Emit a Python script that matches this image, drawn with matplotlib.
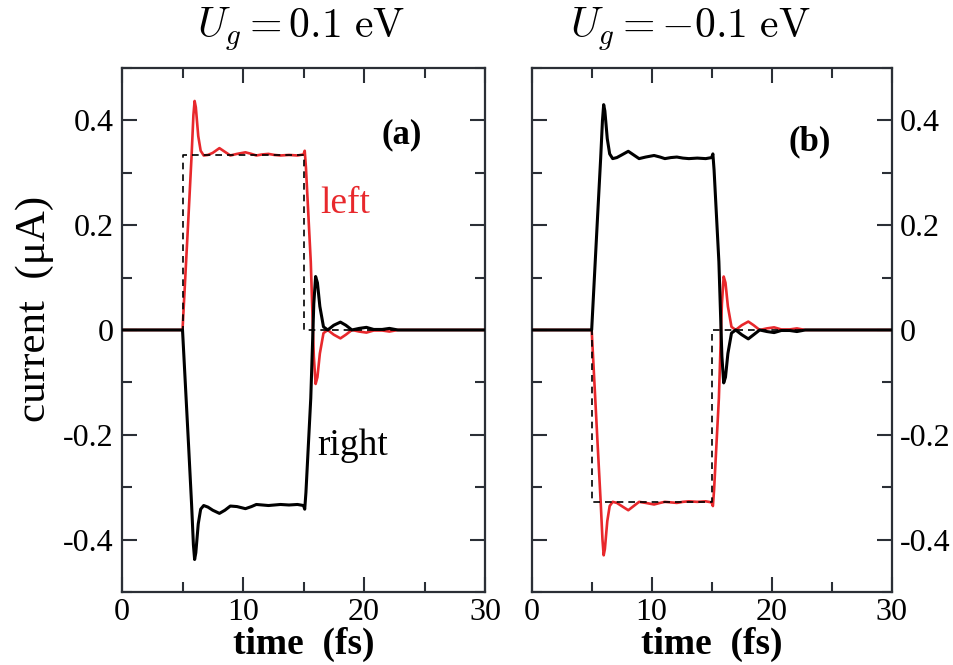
import matplotlib
matplotlib.use("Agg")
import matplotlib.pyplot as plt
from matplotlib.ticker import MultipleLocator

# time axis (fs), shared by all four curves
time = [0, 5.0, 5.25, 5.5, 5.75, 5.9, 6.0, 6.1, 6.3, 6.5,
        6.75, 7.1, 7.5, 8.05, 8.5, 8.95, 9.5, 10.2, 10.7, 11.1,
        11.6, 12.1, 12.6, 13.1, 13.8, 14.5, 15.0, 15.1, 15.2, 15.6,
        15.85, 16.0, 16.15, 16.35, 16.65, 17.0, 17.5, 18.05, 18.5, 19.0,
        19.6, 20.2, 20.8, 21.5, 22.1, 22.8, 23.5, 30]

# panel (a), Ug = 0.1 eV
left_a = [0, 0, 0.11, 0.22, 0.333, 0.41, 0.437, 0.425, 0.37, 0.342,
          0.333, 0.334, 0.338, 0.347, 0.340, 0.333, 0.336, 0.339, 0.336, 0.333,
          0.335, 0.336, 0.334, 0.333, 0.334, 0.333, 0.335, 0.342, 0.31, 0.13,
          -0.05, -0.103, -0.09, -0.045, -0.006, 0.0, -0.009, -0.016, -0.009, 0.0,
          -0.003, -0.005, -0.001, -0.001, -0.003, 0.0, 0.0, 0.0]
right_a = [0, 0, -0.11, -0.22, -0.333, -0.41, -0.438, -0.425, -0.37, -0.342,
           -0.335, -0.338, -0.344, -0.350, -0.344, -0.336, -0.337, -0.341, -0.337, -0.333,
           -0.334, -0.335, -0.334, -0.333, -0.334, -0.333, -0.335, -0.342, -0.31, -0.13,
           0.05, 0.102, 0.09, 0.045, 0.006, 0.0, 0.009, 0.015, 0.009, 0.0,
           0.003, 0.005, 0.001, 0.001, 0.003, 0.0, 0.0, 0.0]

# panel (b), Ug = -0.1 eV
left_b = [0, 0, -0.11, -0.22, -0.328, -0.40, -0.430, -0.418, -0.365, -0.336,
          -0.328, -0.330, -0.336, -0.344, -0.336, -0.328, -0.330, -0.333, -0.330, -0.328,
          -0.329, -0.330, -0.328, -0.327, -0.328, -0.327, -0.329, -0.336, -0.305, -0.13,
          0.05, 0.102, 0.09, 0.045, 0.006, 0.0, 0.009, 0.016, 0.009, 0.0,
          0.003, 0.005, 0.001, 0.001, 0.003, 0.0, 0.0, 0.0]
right_b = [0, 0, 0.11, 0.22, 0.328, 0.40, 0.430, 0.418, 0.365, 0.336,
           0.327, 0.329, 0.334, 0.341, 0.334, 0.327, 0.330, 0.333, 0.330, 0.327,
           0.329, 0.330, 0.328, 0.327, 0.328, 0.327, 0.329, 0.336, 0.305, 0.13,
           -0.05, -0.101, -0.09, -0.045, -0.006, 0.0, -0.009, -0.017, -0.009, 0.0,
           -0.003, -0.005, -0.001, -0.001, -0.003, 0.0, 0.0, 0.0]

# dashed square pulse (steady-state current)
pulse_t = [0, 5, 5, 15, 15, 30]
pulse_a = [0, 0, 0.333, 0.333, 0, 0]
pulse_b = [0, 0, -0.328, -0.328, 0, 0]

y_ticks = [-0.4, -0.2, 0, 0.2, 0.4]
y_tick_labels = ['-0.4', '-0.2', '0', '0.2', '0.4']
x_ticks = [0, 10, 20, 30]
x_tick_labels = ['0', '10', '20', '30']

red = '#e8282c'
spine_col = '#2b2f36'

plt.rcParams['font.family'] = ['Liberation Serif', 'DejaVu Serif']
plt.rcParams['mathtext.fontset'] = 'cm'

fig = plt.figure(figsize=(9.54, 6.65), dpi=100)
ax_a = fig.add_axes([0.1279, 0.1098, 0.3805, 0.7880])
ax_b = fig.add_axes([0.5573, 0.1098, 0.3774, 0.7880])

for ax in (ax_a, ax_b):
    ax.set_xlim(0, 30)
    ax.set_ylim(-0.5, 0.5)
    ax.set_xticks(x_ticks)
    ax.set_xticklabels(x_tick_labels)
    ax.set_yticks(y_ticks)
    ax.set_yticklabels(y_tick_labels)
    ax.xaxis.set_minor_locator(MultipleLocator(5))
    ax.yaxis.set_minor_locator(MultipleLocator(0.1))
    ax.tick_params(which='both', direction='in', top=True, right=True,
                   width=1.5, color=spine_col, labelsize=23, pad=6)
    ax.tick_params(axis='x', which='both', pad=4)
    ax.tick_params(which='major', length=11)
    ax.tick_params(which='minor', length=7)
    for s in ax.spines.values():
        s.set_linewidth(1.6)
        s.set_color(spine_col)
    ax.set_xlabel('time  (fs)', fontsize=27, fontweight='bold', labelpad=0)

ax_b.tick_params(which='both', labelleft=False, labelright=True)

ax_a.plot(time, left_a, color=red, lw=1.9, zorder=2)
ax_a.plot(time, right_a, color='black', lw=2.2, zorder=3)
ax_a.plot(pulse_t, pulse_a, color='black', lw=1.2, ls=(0, (4, 3)), zorder=4)

ax_b.plot(time, left_b, color=red, lw=1.9, zorder=2)
ax_b.plot(time, right_b, color='black', lw=2.2, zorder=3)
ax_b.plot(pulse_t, pulse_b, color='black', lw=1.2, ls=(0, (4, 3)), zorder=4)

fig.text(35 / 954, 1 - 309 / 665, 'current  (\u03bcA)', fontsize=31,
         rotation=90, ha='center', va='center')

ax_a.text(16.35, 0.224, 'left', color=red, fontsize=27)
ax_a.text(16.1, -0.239, 'right', color='black', fontsize=27)
ax_a.text(23.1, 0.373, '(a)', fontsize=25, fontweight='bold', ha='center', va='center')
ax_b.text(23.2, 0.36, '(b)', fontsize=25, fontweight='bold', ha='center', va='center')

fig.text(301 / 954, 1 - 29 / 665, r'$U_g = 0.1\ \mathrm{eV}$', fontsize=30,
         ha='center', va='center')
fig.text(690 / 954, 1 - 29 / 665, r'$U_g = -0.1\ \mathrm{eV}$', fontsize=30,
         ha='center', va='center')

fig.savefig('out.png', dpi=100)
